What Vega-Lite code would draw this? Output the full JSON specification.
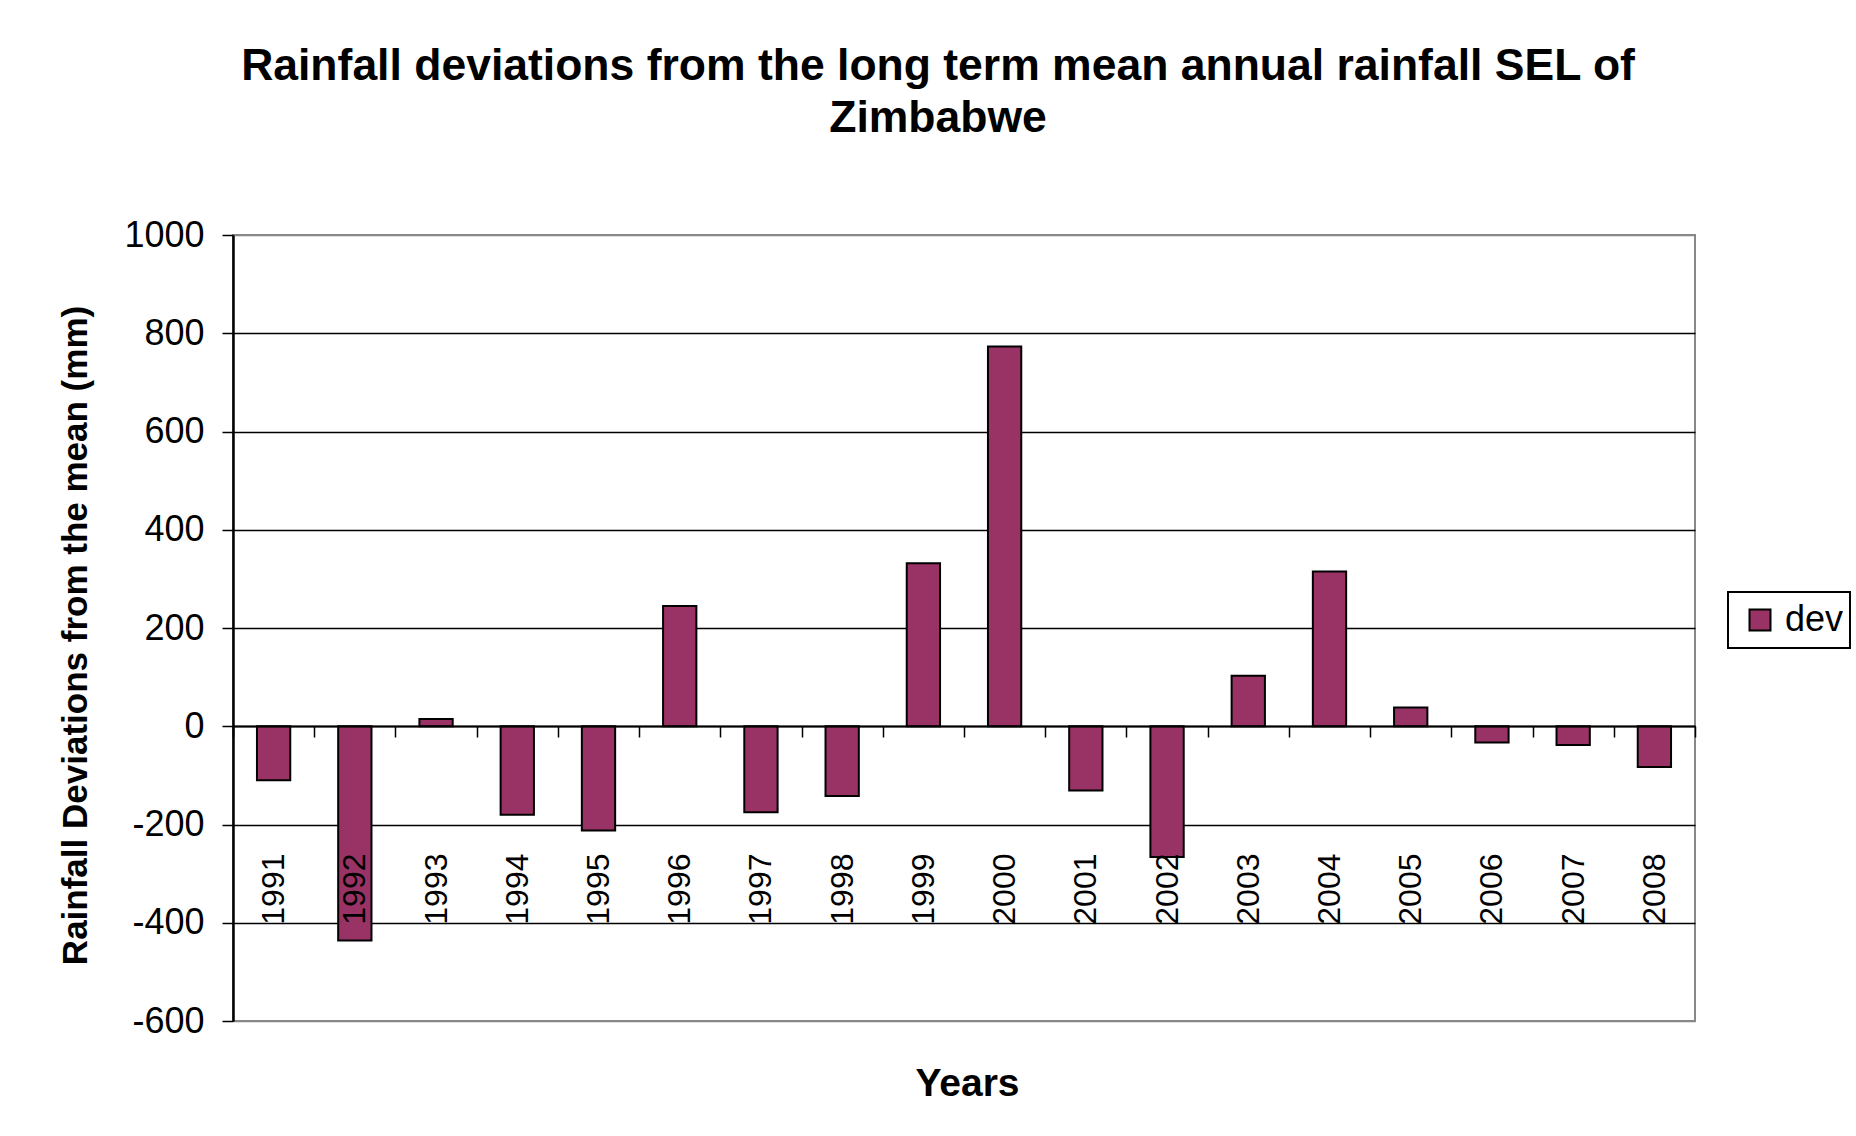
{
  "$schema": "https://vega.github.io/schema/vega-lite/v6.json",
  "autosize": "none",
  "width": 1462,
  "height": 786,
  "padding": {"left": 233, "top": 235, "right": 161, "bottom": 115},
  "background": "white",
  "title": {
    "text": ["Rainfall deviations from the long term mean annual rainfall SEL of", "Zimbabwe"],
    "font": "Liberation Sans",
    "fontSize": 44.5,
    "fontWeight": "bold",
    "lineHeight": 52,
    "anchor": "middle",
    "frame": "group",
    "dx": -26,
    "color": "black",
    "baseline": "bottom",
    "offset": 32
  },
  "data": {
    "values": [
      {"year": "1991", "dev": -110, "series": "dev"},
      {"year": "1992", "dev": -436, "series": "dev"},
      {"year": "1993", "dev": 15, "series": "dev"},
      {"year": "1994", "dev": -180, "series": "dev"},
      {"year": "1995", "dev": -212, "series": "dev"},
      {"year": "1996", "dev": 245, "series": "dev"},
      {"year": "1997", "dev": -175, "series": "dev"},
      {"year": "1998", "dev": -142, "series": "dev"},
      {"year": "1999", "dev": 332, "series": "dev"},
      {"year": "2000", "dev": 773, "series": "dev"},
      {"year": "2001", "dev": -131, "series": "dev"},
      {"year": "2002", "dev": -266, "series": "dev"},
      {"year": "2003", "dev": 103, "series": "dev"},
      {"year": "2004", "dev": 315, "series": "dev"},
      {"year": "2005", "dev": 38, "series": "dev"},
      {"year": "2006", "dev": -33, "series": "dev"},
      {"year": "2007", "dev": -38, "series": "dev"},
      {"year": "2008", "dev": -83, "series": "dev"}
    ]
  },
  "mark": {"type": "bar", "stroke": "black", "strokeWidth": 2, "width": {"band": 0.41}},
  "encoding": {
    "x": {
      "field": "year",
      "type": "ordinal",
      "scale": {"paddingInner": 0, "paddingOuter": 0},
      "axis": {
        "title": "Years",
        "orient": "bottom",
        "offset": -295,
        "zindex": 1,
        "labelAngle": -90,
        "labelAlign": "right",
        "labelBaseline": "middle",
        "labelFont": "Liberation Sans",
        "labelFontSize": 32,
        "labelColor": "black",
        "labelPadding": 116,
        "labelOverlap": false,
        "tickBand": "extent",
        "tickSize": 11,
        "tickColor": "black",
        "tickWidth": 1.5,
        "domainColor": "black",
        "domainWidth": 2,
        "grid": false,
        "titleFont": "Liberation Sans",
        "titleFontSize": 39,
        "titleFontWeight": "bold",
        "titleColor": "black",
        "titleX": 734,
        "titleY": 357,
        "titleBaseline": "middle",
        "titleAlign": "center"
      }
    },
    "y": {
      "field": "dev",
      "type": "quantitative",
      "scale": {"domain": [-600, 1000], "nice": false, "zero": false},
      "axis": {
        "title": "Rainfall  Deviations from the mean (mm)",
        "values": [-600, -400, -200, 0, 200, 400, 600, 800, 1000],
        "labelExpr": "datum.value + ''",
        "labelFont": "Liberation Sans",
        "labelFontSize": 36,
        "labelColor": "black",
        "labelPadding": 18,
        "labelFlush": false,
        "labelOverlap": false,
        "tickSize": 11,
        "tickColor": "black",
        "tickWidth": 1.5,
        "domainColor": "black",
        "domainWidth": 2.5,
        "grid": true,
        "gridColor": {"condition": {"test": "datum.value === 1000 || datum.value === -600", "value": "#888888"}, "value": "black"},
        "gridWidth": 1.5,
        "gridOpacity": 1,
        "titleFont": "Liberation Sans",
        "titleFontSize": 35,
        "titleFontWeight": "bold",
        "titleColor": "black",
        "titleX": -158,
        "titleY": 400,
        "titleBaseline": "middle",
        "titleAlign": "center",
        "titleAngle": 270
      }
    },
    "color": {
      "field": "series",
      "type": "nominal",
      "scale": {"range": ["#993366"]},
      "legend": {
        "title": null,
        "orient": "none",
        "legendX": 1495,
        "legendY": 357,
        "strokeColor": "black",
        "padding": 6,
        "symbolOffset": 8,
        "symbolType": "square",
        "symbolSize": 441,
        "symbolStrokeColor": "black",
        "symbolStrokeWidth": 2,
        "symbolOpacity": 1,
        "labelFont": "Liberation Sans",
        "labelFontSize": 36,
        "labelColor": "black",
        "labelOffset": 7,
        "clipHeight": 44,
        "encode": {"legend": {"update": {"strokeWidth": {"value": 2}}}}
      }
    }
  },
  "config": {
    "view": {"stroke": "#888888", "strokeWidth": 2},
    "font": "Liberation Sans"
  }
}
